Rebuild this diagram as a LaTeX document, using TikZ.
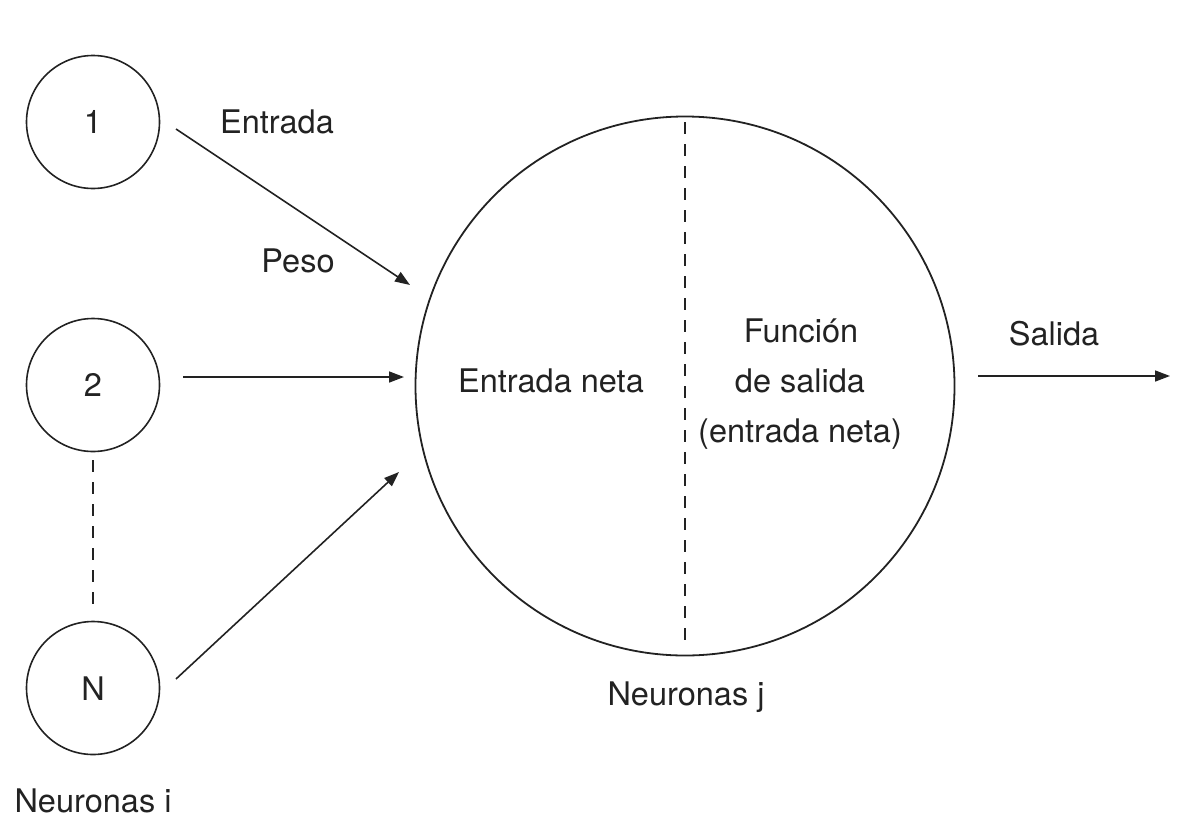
\documentclass[tikz,border=0pt]{standalone}
\usepackage{fontspec}
\setmainfont{TeX Gyre Heros}
\usetikzlibrary{arrows.meta}
\definecolor{ink}{HTML}{222222}
\begin{document}
\begin{tikzpicture}[x=1pt,y=-1pt,
  every node/.style={font=\fontsize{32.5}{38}\selectfont, text=ink},
  neuron/.style={circle, draw=ink, line width=1.6pt, minimum size=133pt, inner sep=0pt},
  bigneuron/.style={circle, draw=ink, line width=1.8pt, minimum size=539pt, inner sep=0pt},
  lbl/.style={anchor=base, inner sep=0pt},
  conn/.style={draw=ink, line width=1.6pt, -{Triangle[length=15pt,width=11pt]}},
  dashln/.style={draw=ink, line width=1.5pt, dash pattern=on 12pt off 10pt}
]
\useasboundingbox (0,0) rectangle (1182,830);
% input neurons
\node[neuron] (n1) at (93,122) {};
\node[neuron] (n2) at (93,385) {};
\node[neuron] (nN) at (93,688) {};
\node[lbl] (t1) at (93,133) {1};
\node[lbl] (t2) at (93,396) {2};
\node[lbl] (tN) at (93,700) {N};
% big neuron
\node[bigneuron] (nj) at (685,386) {};
% coordinates for connector ends
\coordinate (a1s) at (176,129);
\coordinate (a1e) at (410,285);
\coordinate (a2s) at (183,377);
\coordinate (a2e) at (404,377);
\coordinate (a3s) at (176,679);
\coordinate (a3e) at (399,472);
\coordinate (os) at (978,376);
\coordinate (oe) at (1170,376);
\coordinate (d1) at (93,460);
\coordinate (d2) at (93,604);
\coordinate (m1) at (685,122);
\coordinate (m2) at (685,646);
% connectors
\draw[conn] (a1s) -- (a1e);
\draw[conn] (a2s) -- (a2e);
\draw[conn] (a3s) -- (a3e);
\draw[conn] (os) -- (oe);
\draw[dashln] (d1) -- (d2);
\draw[dashln] (m1) -- (m2);
% labels
\node[lbl] (entrada) at (277,133) {Entrada};
\node[lbl] (peso) at (298,272) {Peso};
\node[lbl] (neta) at (551,392) {Entrada neta};
\node[lbl] (f1) at (801,342) {Función};
\node[lbl] (f2) at (800,392) {de salida};
\node[lbl] (f3) at (800,442) {(entrada neta)};
\node[lbl] (salida) at (1054,345) {Salida};
\node[lbl] (nrj) at (686,705) {Neuronas j};
\node[lbl] (nri) at (93,812) {Neuronas i};
\end{tikzpicture}
\end{document}
